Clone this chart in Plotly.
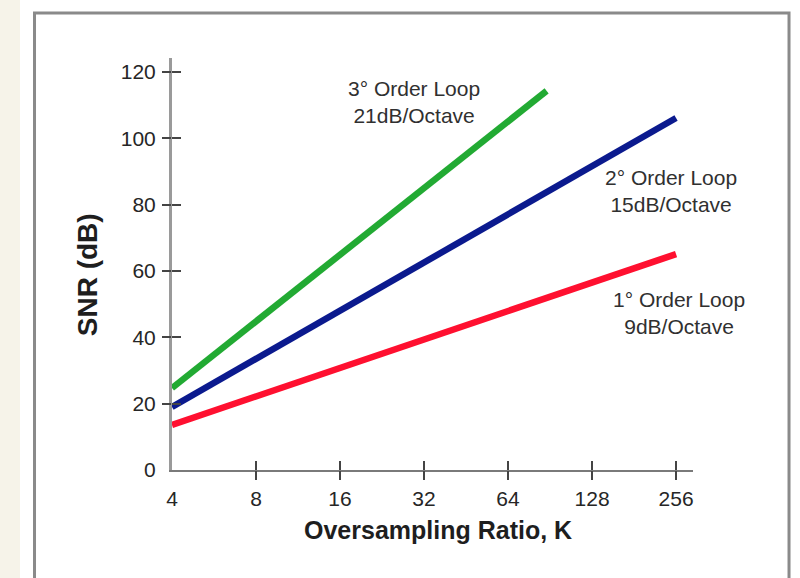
import math
import plotly.graph_objects as go

# ---- data ----
K_TICKS = [4, 8, 16, 32, 64, 128, 256]
K_TICK_LABELS = ["4", "8", "16", "32", "64", "128", "256"]
SNR_TICKS = [0, 20, 40, 60, 80, 100, 120]
SNR_TICK_LABELS = ["0", "20", "40", "60", "80", "100", "120"]

k_first = [4, 256]
snr_first = [13.6, 65.1]
k_second = [4, 256]
snr_second = [19.0, 106.1]
k_third = [4, 88]
snr_third = [24.7, 114.3]

label_first = ["1° Order Loop", "9dB/Octave"]
label_second = ["2° Order Loop", "15dB/Octave"]
label_third = ["3° Order Loop", "21dB/Octave"]

x_title = "Oversampling Ratio, K"
y_title = "SNR (dB)"

# ---- figure ----
FONT = "Liberation Sans, Arial, sans-serif"
TXT = "#262626"
fig = go.Figure()

for xs, ys, col in [(k_first, snr_first, "#ff1030"),
                    (k_second, snr_second, "#0b1a8e"),
                    (k_third, snr_third, "#22aa33")]:
    fig.add_trace(go.Scatter(x=xs, y=ys, mode="lines",
                             line=dict(color=col, width=6.5),
                             showlegend=False, hoverinfo="skip"))

xr = [math.log10(4), 2.469]
yr = [0, 124.2]

fig.update_layout(
    width=800, height=578,
    margin=dict(l=172, r=107, t=58, b=108),
    paper_bgcolor="white", plot_bgcolor="white",
    font=dict(family=FONT, color=TXT),
    xaxis=dict(type="log", range=xr, tickvals=K_TICKS, ticktext=K_TICK_LABELS,
               ticks="outside", ticklen=9, tickcolor="rgba(0,0,0,0)",
               showline=True, linecolor="#7a7a7a", linewidth=2,
               showgrid=False, zeroline=False, tickfont=dict(size=21, color=TXT)),
    yaxis=dict(range=yr, tickvals=SNR_TICKS, ticktext=SNR_TICK_LABELS,
               ticks="outside", ticklen=9, tickcolor="rgba(0,0,0,0)",
               showline=True, linecolor="#9a9a9a", linewidth=3,
               showgrid=False, zeroline=False, tickfont=dict(size=21, color=TXT)),
    xaxis2=dict(type="log", range=xr, overlaying="x", anchor="y", side="bottom",
                tickvals=K_TICKS[1:], ticks="outside", ticklen=9, tickwidth=1.5,
                tickcolor="#444", showticklabels=False, showline=False,
                showgrid=False, zeroline=False),
    xaxis3=dict(type="log", range=xr, overlaying="x", anchor="y", side="bottom",
                tickvals=K_TICKS[1:], ticks="inside", ticklen=9, tickwidth=1.5,
                tickcolor="#444", showticklabels=False, showline=False,
                showgrid=False, zeroline=False),
    yaxis2=dict(range=yr, overlaying="y", anchor="x", side="left",
                tickvals=SNR_TICKS[1:], ticks="outside", ticklen=9, tickwidth=1.5,
                tickcolor="#444", showticklabels=False, showline=False,
                showgrid=False, zeroline=False),
    yaxis3=dict(range=yr, overlaying="y", anchor="x", side="left",
                tickvals=SNR_TICKS[1:], ticks="inside", ticklen=9, tickwidth=1.5,
                tickcolor="#444", showticklabels=False, showline=False,
                showgrid=False, zeroline=False),
)

# invisible traces so the overlay tick axes are drawn
for xa, ya in [("x2", "y"), ("x3", "y"), ("x", "y2"), ("x", "y3")]:
    fig.add_trace(go.Scatter(x=[], y=[], xaxis=xa, yaxis=ya, showlegend=False,
                             hoverinfo="skip"))

# background: cream strip at left and framed box
fig.add_shape(type="rect", xref="paper", yref="paper", x0=-0.40, x1=-0.2917,
              y0=-0.4, y1=1.3, fillcolor="#f6f3e9", line=dict(width=0), layer="below")
fig.add_shape(type="rect", xref="paper", yref="paper", x0=-0.2639, x1=1.1843,
              y0=-0.35, y1=1.109, fillcolor="rgba(0,0,0,0)",
              line=dict(color="#8a8a8a", width=3), layer="above")

ann = [
    (label_third, 0.4645, 0.8938),
    (label_second, 0.9573, 0.6760),
    (label_first, 0.9722, 0.3805),
]
for lines, x, y in ann:
    fig.add_annotation(text="<br>".join(lines), x=x, y=y, xref="paper", yref="paper",
                       xanchor="center", yanchor="middle", align="center",
                       showarrow=False,
                       font=dict(size=21, color="#303030", family=FONT))

fig.add_annotation(text="<b>%s</b>" % x_title, x=0.5106, y=-0.1456,
                   xref="paper", yref="paper", showarrow=False,
                   xanchor="center", yanchor="middle",
                   font=dict(size=25, color="#1e1e1e", family=FONT))
fig.add_annotation(text="<b>%s</b>" % y_title, x=-0.163, y=0.473,
                   xref="paper", yref="paper", showarrow=False, textangle=-90,
                   xanchor="center", yanchor="middle",
                   font=dict(size=28, color="#1e1e1e", family=FONT))

fig.write_html("out.html", config={"displayModeBar": False},
               post_script="document.body.style.margin='0';")
